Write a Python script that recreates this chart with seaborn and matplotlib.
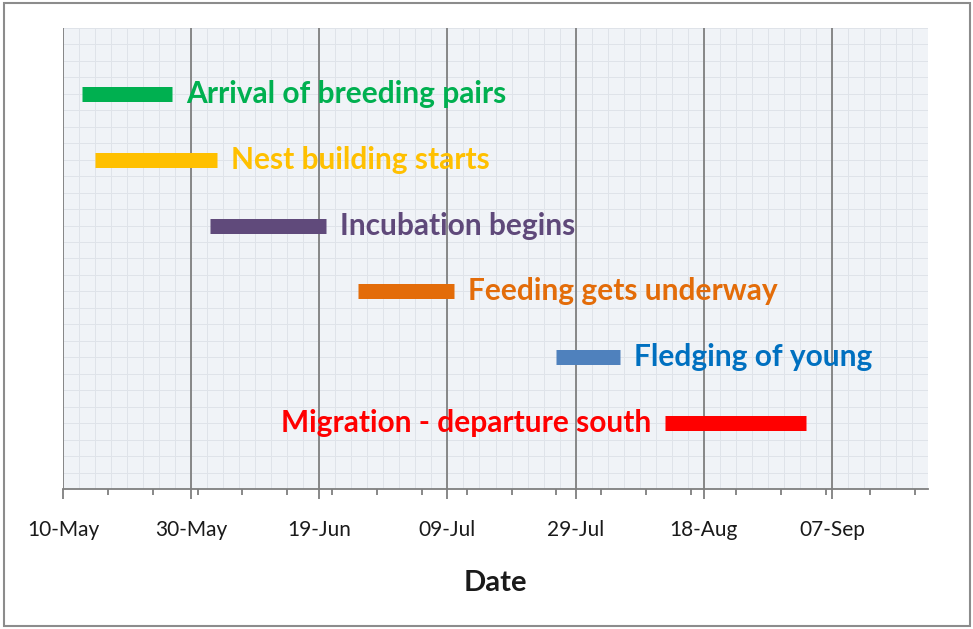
import numpy as np
import pandas as pd
import matplotlib
matplotlib.use("Agg")
import matplotlib.pyplot as plt
import matplotlib.dates as mdates
from matplotlib.patches import Rectangle
import seaborn as sns

# Phases of the breeding season
tasks = [
    "Arrival of breeding pairs",
    "Nest building starts",
    "Incubation begins",
    "Feeding gets underway",
    "Fledging of young",
    "Migration - departure south",
]
starts = ["2013-05-13", "2013-05-15", "2013-06-02", "2013-06-25", "2013-07-26", "2013-08-12"]
ends = ["2013-05-27", "2013-06-03", "2013-06-20", "2013-07-10", "2013-08-05", "2013-09-03"]
bar_colors = ["#00b050", "#ffc000", "#604a7b", "#e36c09", "#4f81bd", "#ff0000"]
text_colors = ["#00b050", "#ffc000", "#5f497a", "#e36c09", "#0070c0", "#ff0000"]
label_side = ["right", "right", "right", "right", "right", "left"]

major_ticks = ["2013-05-10", "2013-05-30", "2013-06-19", "2013-07-09",
               "2013-07-29", "2013-08-18", "2013-09-07"]
x_min, x_max = "2013-05-10", "2013-09-22"

sns.set_theme(style="white")
plt.rcParams["font.family"] = ["Lato", "DejaVu Sans"]

# long table: one row per bar end
rows = []
for i, t in enumerate(tasks):
    rows.append({"task": t, "date": pd.Timestamp(starts[i]), "pos": i + 1})
    rows.append({"task": t, "date": pd.Timestamp(ends[i]), "pos": i + 1})
df = pd.DataFrame(rows)

fig = plt.figure(figsize=(9.73, 6.29), dpi=100)
ax = fig.add_axes([0.0647, 0.2226, 0.8891, 0.7329])
ax.set_facecolor("#f0f3f7")

sns.lineplot(data=df, x="date", y="pos", hue="task", units="task",
             estimator=None, sort=False, palette=dict(zip(tasks, bar_colors)),
             lw=10.8, solid_capstyle="butt", legend=False, ax=ax, zorder=3)

xmin_n = mdates.date2num(pd.Timestamp(x_min))
xmax_n = mdates.date2num(pd.Timestamp(x_max))
ax.set_xlim(xmin_n, xmax_n)
ax.set_ylim(7, 0)

# graph-paper background
for xv in np.arange(xmin_n, xmax_n, 2.5):
    ax.axvline(xv, color="#dfe3e9", lw=0.7, zorder=0)
for yv in np.arange(0, 7, 0.25):
    ax.axhline(yv, color="#dfe3e9", lw=0.7, zorder=0)

# major gridlines
major_n = [mdates.date2num(pd.Timestamp(d)) for d in major_ticks]
for xv in major_n:
    ax.axvline(xv, color="#7f7f7f", lw=1.3, zorder=1)

ax.set_xticks(major_n)
ax.set_xticklabels([pd.Timestamp(d).strftime("%d-%b") for d in major_ticks])
minor_n = mdates.date2num(pd.date_range(x_min, x_max, freq="7D"))
ax.set_xticks(minor_n, minor=True)
ax.tick_params(axis="x", which="major", length=7, width=1.3, color="#7f7f7f",
               pad=15, labelsize=15, labelcolor="#1a1a1a", bottom=True)
ax.tick_params(axis="x", which="minor", length=4, width=1.3, color="#7f7f7f", bottom=True)
ax.set_yticks([])
ax.set_ylabel("")
ax.set_xlabel("Date", fontsize=21, fontweight="bold", labelpad=22, color="#1a1a1a")

for s in ["top", "right", "left"]:
    ax.spines[s].set_visible(False)
ax.spines["bottom"].set_color("#7f7f7f")
ax.spines["bottom"].set_linewidth(1.3)

# phase labels
for i, t in enumerate(tasks):
    if label_side[i] == "right":
        xy = (mdates.date2num(pd.Timestamp(ends[i])), i + 1)
        ax.annotate(t, xy=xy, xytext=(10, 0), textcoords="offset points",
                    ha="left", va="center", fontsize=21.5, fontweight="bold",
                    color=text_colors[i], zorder=4)
    else:
        xy = (mdates.date2num(pd.Timestamp(starts[i])), i + 1)
        ax.annotate(t, xy=xy, xytext=(-10, 0), textcoords="offset points",
                    ha="right", va="center", fontsize=21.5, fontweight="bold",
                    color=text_colors[i], zorder=4)

# outer frame
fig.patches.append(Rectangle((0.004, 0.005), 0.993, 0.99, transform=fig.transFigure,
                             fill=False, edgecolor="#8c8c8c", lw=1.5))

fig.savefig("out.png", dpi=100)
